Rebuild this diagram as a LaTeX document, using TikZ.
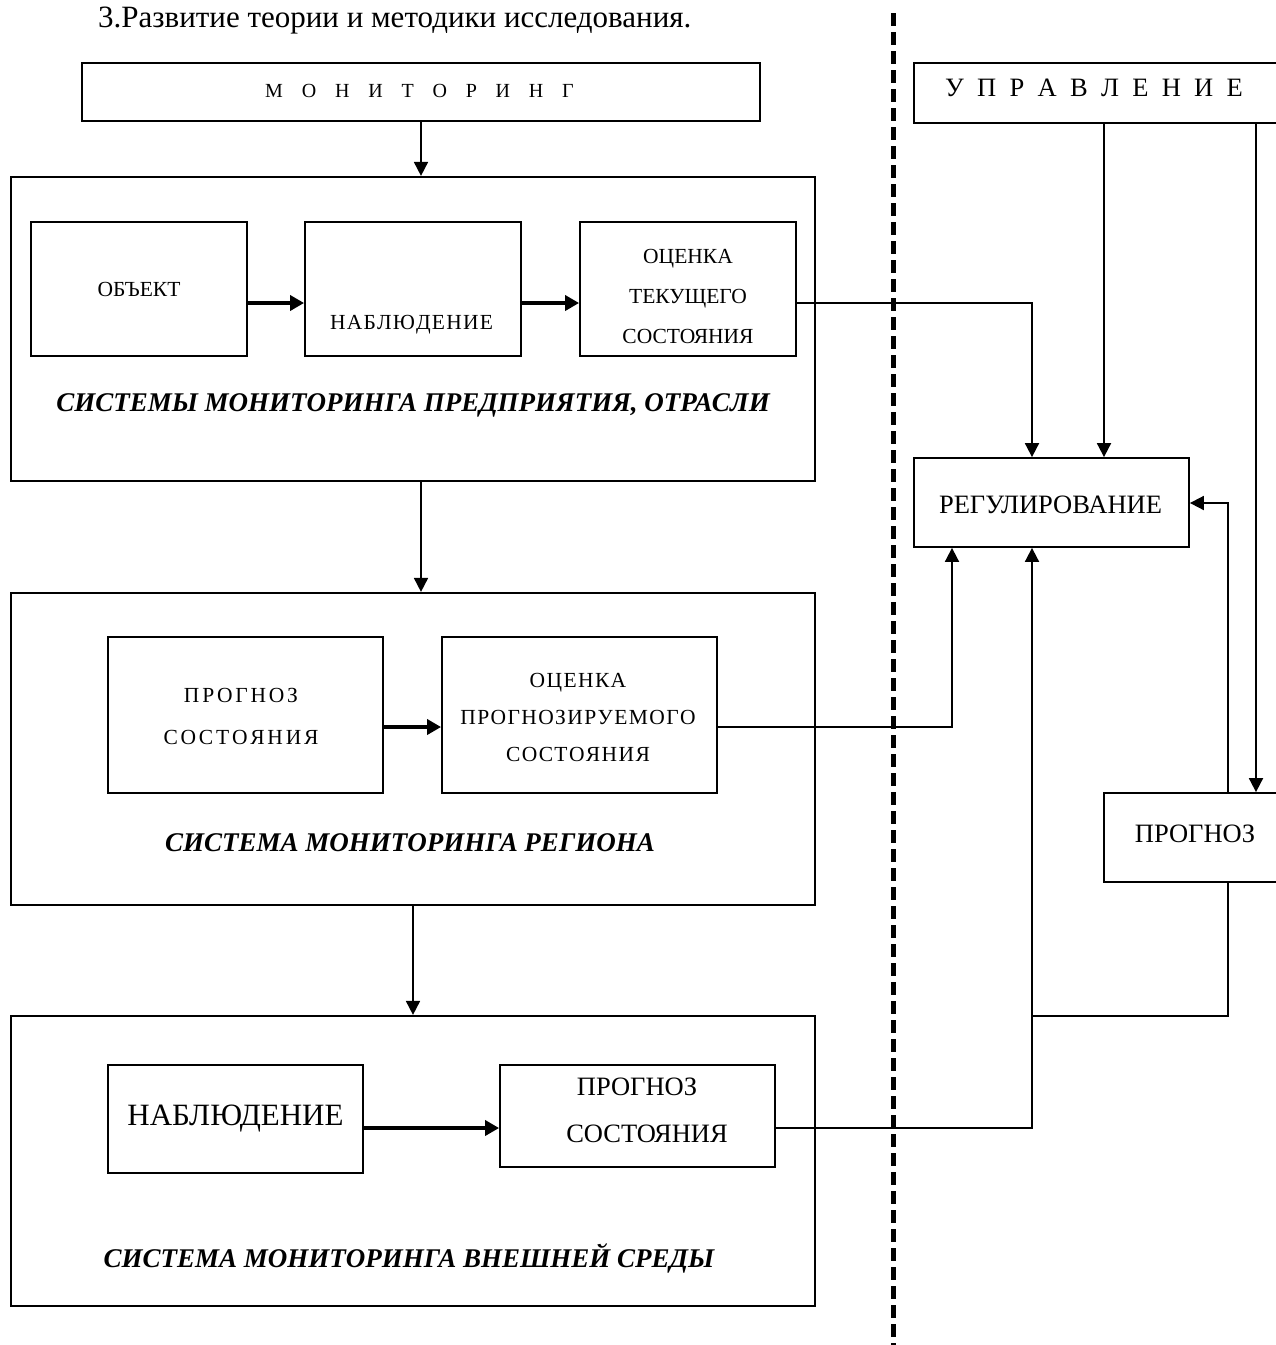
\documentclass[tikz,border=0pt]{standalone}
\usepackage{fontspec}
\setmainfont{Liberation Serif}
\usetikzlibrary{arrows.meta}
\ExplSyntaxOn
\NewDocumentCommand\spreadtext{mm}{\tl_map_inline:nn{#2}{##1\kern#1\relax}\kern-#1\relax}
\ExplSyntaxOff
\newcommand\myfMon{\fontsize{20}{24}\selectfont}
\newcommand\myfSm{\fontsize{21.5}{26}\selectfont}
\newcommand\myfBig{\fontsize{26.5}{32}\selectfont}
\newcommand\myfHuge{\fontsize{31}{37}\selectfont}
\newcommand\myfTitle{\fontsize{27}{32}\selectfont\bfseries\itshape}
\begin{document}
\begin{tikzpicture}[x=1pt,y=-1pt,
  box/.style={draw,line width=1.8pt,inner sep=0pt},
  bigbox/.style={draw,line width=2.2pt,inner sep=0pt},
  lbl/.style={inner sep=0pt,align=center},
  conn/.style={line width=1.8pt},
  arr/.style={line width=1.8pt,-{Triangle[length=14pt,width=14pt]}},
  thickarr/.style={line width=3.5pt,-{Triangle[length=14pt,width=15pt]}},
  sep/.style={line width=5pt,dash pattern=on 13pt off 6pt}
  ]
\useasboundingbox (0,0) rectangle (1276,1345);
\clip (0,0) rectangle (1276,1345);
\fill[white] (0,0) rectangle (1276,1345);

% heading
\node[inner sep=0pt,anchor=base west,font=\myfHuge] (head) at (98,27) {3.Развитие теории и методики исследования.};

% dashed separator
\coordinate (dtop) at (893,13);
\coordinate (dbot) at (893,1350);
\draw[sep] (dtop) -- (dbot);

% boxes
\node[box,minimum width=678pt,minimum height=58pt] (mon) at (421,92) {};
\node[box,minimum width=364pt,minimum height=60pt] (upr) at (1096,93) {};
\node[bigbox,minimum width=804pt,minimum height=304pt] (sys1) at (413,329) {};
\node[box,minimum width=216pt,minimum height=134pt] (obj) at (139,289) {};
\node[box,minimum width=216pt,minimum height=134pt] (nab) at (413,289) {};
\node[box,minimum width=216pt,minimum height=134pt] (ocen) at (688,289) {};
\node[box,minimum width=275pt,minimum height=89pt] (reg) at (1051.5,502.5) {};
\node[box,minimum width=184pt,minimum height=89pt] (prog) at (1196,837.5) {};
\node[bigbox,minimum width=804pt,minimum height=312pt] (sys2) at (413,749) {};
\node[box,minimum width=275pt,minimum height=156pt] (pps) at (245.5,715) {};
\node[box,minimum width=275pt,minimum height=156pt] (ops) at (579.5,715) {};
\node[bigbox,minimum width=804pt,minimum height=290pt] (sys3) at (413,1161) {};
\node[box,minimum width=255pt,minimum height=108pt] (nab3) at (235.5,1119) {};
\node[box,minimum width=275pt,minimum height=102pt] (pr3) at (637.5,1116) {};

% texts
\node[lbl,font=\myfMon,anchor=base] (mon-t) at (419.5,97) {\spreadtext{18.8pt}{МОНИТОРИНГ}};
\node[lbl,font=\myfBig,anchor=base] (upr-t) at (1094,96) {\spreadtext{13.3pt}{УПРАВЛЕНИЕ}};
\node[lbl,font=\myfSm,anchor=base] (obj-t) at (139,296) {ОБЪЕКТ};
\node[lbl,font=\myfSm,anchor=base] (nab-t) at (411.5,329) {\spreadtext{1.2pt}{НАБЛЮДЕНИЕ}};
\node[lbl,font={\fontsize{21.5}{40}\selectfont}] (ocen-t) at (688,296) {ОЦЕНКА\\ТЕКУЩЕГО\\СОСТОЯНИЯ};
\node[lbl,font=\myfTitle,anchor=base] (sys1-t) at (413,411) {СИСТЕМЫ МОНИТОРИНГА ПРЕДПРИЯТИЯ, ОТРАСЛИ};
\node[lbl,font=\myfBig,anchor=base] (reg-t) at (1050.5,513) {РЕГУЛИРОВАНИЕ};
\node[lbl,font=\myfBig,anchor=base] (prog-t) at (1195,842) {ПРОГНОЗ};
\node[lbl,font={\fontsize{21.5}{42}\selectfont}] (pps-t) at (241,716) {\spreadtext{2.8pt}{ПРОГНОЗ}\\\spreadtext{2.8pt}{СОСТОЯНИЯ}};
\node[lbl,font={\fontsize{21.5}{37}\selectfont}] (ops-t) at (578,717.5) {\spreadtext{1.4pt}{ОЦЕНКА}\\\spreadtext{1.4pt}{ПРОГНОЗИРУЕМОГО}\\\spreadtext{1.4pt}{СОСТОЯНИЯ}};
\node[lbl,font=\myfTitle,anchor=base] (sys2-t) at (410,851) {СИСТЕМА МОНИТОРИНГА РЕГИОНА};
\node[lbl,font=\myfHuge,anchor=base] (nab3-t) at (235.5,1125) {НАБЛЮДЕНИЕ};
\node[lbl,font={\fontsize{26.5}{47}\selectfont}] (pr3-t) at (647,1110) {ПРОГНОЗ\hspace*{20pt}\\СОСТОЯНИЯ};
\node[lbl,font=\myfTitle,anchor=base] (sys3-t) at (409,1267) {СИСТЕМА МОНИТОРИНГА ВНЕШНЕЙ СРЕДЫ};

% helper levels
\coordinate (y1) at (0,303);
\coordinate (y2) at (0,503);
\coordinate (y3) at (0,727);
\coordinate (y4) at (0,1128);
\coordinate (y5) at (0,1016);
\coordinate (c1) at (1032,0);
\coordinate (c2) at (1104,0);
\coordinate (c3) at (1256,0);
\coordinate (c4) at (1228,0);
\coordinate (c5) at (952,0);

% connectors
\draw[arr] (mon.south) -- (mon.south |- sys1.north);
\draw[arr] (mon.south |- sys1.south) -- (mon.south |- sys2.north);
\draw[arr] (sys2.south) -- (sys3.north);
\draw[thickarr] (obj.east |- y1) -- (nab.west |- y1);
\draw[thickarr] (nab.east |- y1) -- (ocen.west |- y1);
\draw[thickarr] (pps.east |- y3) -- (ops.west |- y3);
\draw[thickarr] (nab3.east |- y4) -- (pr3.west |- y4);
\draw[arr] (ocen.east |- y1) -| (c1 |- reg.north);
\draw[arr] (c2 |- upr.south) -- (c2 |- reg.north);
\draw[arr] (c3 |- upr.south) -- (c3 |- prog.north);
\draw[arr] (c4 |- prog.north) |- (reg.east |- y2);
\draw[arr] (ops.east |- y3) -| (c5 |- reg.south);
\draw[arr] (pr3.east |- y4) -| (c1 |- reg.south);
\draw[conn] (c4 |- prog.south) |- (c1 |- y5);
\end{tikzpicture}
\end{document}
